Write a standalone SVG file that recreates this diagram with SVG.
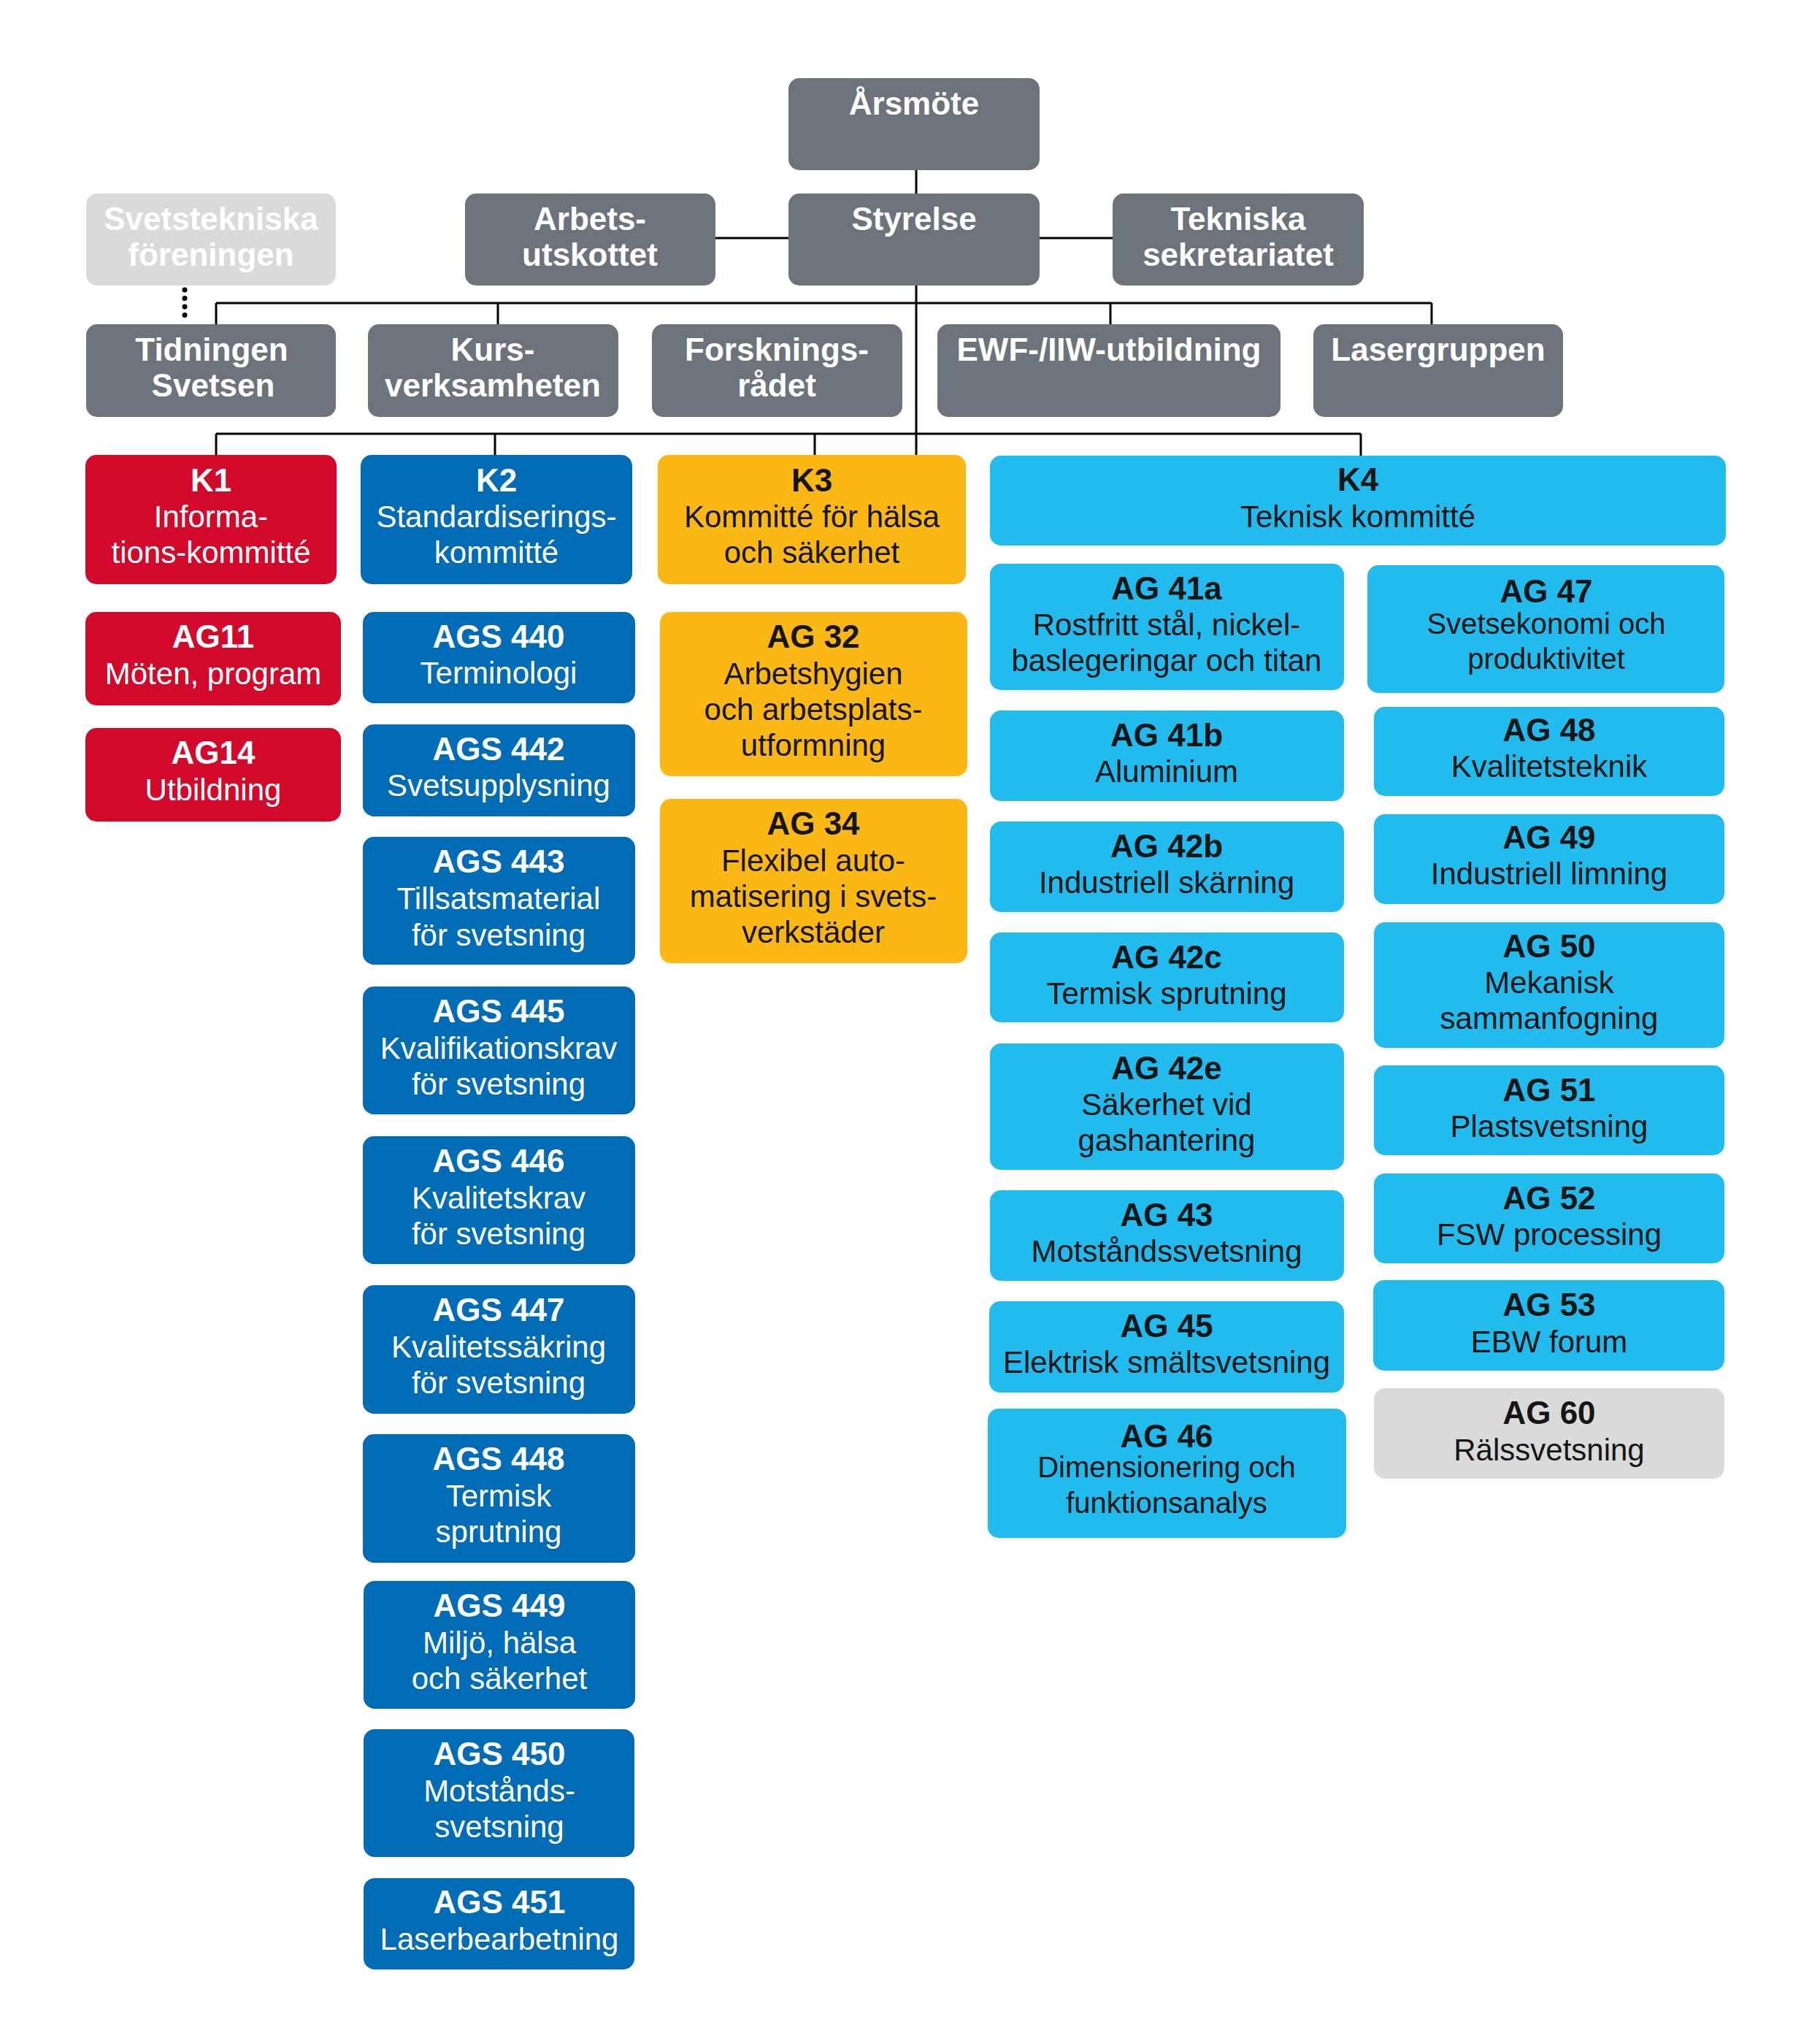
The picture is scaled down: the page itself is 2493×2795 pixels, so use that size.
<svg xmlns="http://www.w3.org/2000/svg" width="2493" height="2795" viewBox="0 0 2493 2795">
<style>
text{font-family:"Liberation Sans",Arial,Helvetica,sans-serif;text-anchor:middle}
.t{font-weight:bold;font-size:44px}
.d{font-size:42px}
.s{font-size:40px}
.w{fill:#ffffff}
.k{fill:#151515}
.gray{fill:#6c737a}
.lgray{fill:#dadada}
.red{fill:#d2092b}
.blue{fill:#006cb6}
.yel{fill:#fbb814}
.cyan{fill:#21bbee}
.con{stroke:#000;stroke-width:3;fill:none}
.dot{stroke:#000;stroke-width:7;stroke-linecap:round;stroke-dasharray:0 11.5;fill:none}
</style>
<rect width="2493" height="2795" fill="#ffffff"/>
<g id="connectors">
<path class="con" d="M1255,233V265M980,326H1080M1424,326H1524M1255,391V623M296,415H1961M296,415V444M682,415V444M1521,415V444M1961,415V444M296,594H1864M296,594V623M678,594V623M1116,594V623M1864,594V624"/>
<path class="dot" d="M253,397V443"/>
</g>
<g id="arsmote"><rect class="gray" x="1080" y="107" width="344" height="126" rx="15"/><text class="t w" x="1252" y="157">Årsmöte</text></g>
<g id="svetstekniska"><rect class="lgray" x="118" y="265" width="342" height="126" rx="15"/><text class="t w" x="289" y="315">Svetstekniska</text><text class="t w" x="289" y="364">föreningen</text></g>
<g id="arbetsutskottet"><rect class="gray" x="637" y="265" width="343" height="126" rx="15"/><text class="t w" x="808" y="315">Arbets-</text><text class="t w" x="808" y="364">utskottet</text></g>
<g id="styrelse"><rect class="gray" x="1080" y="265" width="344" height="126" rx="15"/><text class="t w" x="1252" y="315">Styrelse</text></g>
<g id="tekniska"><rect class="gray" x="1524" y="265" width="344" height="126" rx="15"/><text class="t w" x="1696" y="315">Tekniska</text><text class="t w" x="1696" y="364">sekretariatet</text></g>
<g id="tidningen"><rect class="gray" x="118" y="444" width="342" height="127" rx="15"/><text class="t w" x="290" y="494">Tidningen</text><text class="t w" x="292" y="543">Svetsen</text></g>
<g id="kurs"><rect class="gray" x="504" y="444" width="343" height="127" rx="15"/><text class="t w" x="675" y="494">Kurs-</text><text class="t w" x="675" y="543">verksamheten</text></g>
<g id="forskning"><rect class="gray" x="893" y="444" width="343" height="127" rx="15"/><text class="t w" x="1064" y="494">Forsknings-</text><text class="t w" x="1064" y="543">rådet</text></g>
<g id="ewf"><rect class="gray" x="1284" y="444" width="470" height="127" rx="15"/><text class="t w" x="1519" y="494">EWF-/IIW-utbildning</text></g>
<g id="lasergruppen"><rect class="gray" x="1799" y="444" width="342" height="127" rx="15"/><text class="t w" x="1970" y="494">Lasergruppen</text></g>

<g id="k1"><rect class="red" x="117" y="623" width="344" height="177" rx="15"/><text class="t w" x="289" y="673">K1</text><text class="d w" x="289" y="722">Informa-</text><text class="d w" x="289" y="771">tions-kommitté</text></g>
<g id="ag11"><rect class="red" x="117" y="838" width="350" height="128" rx="15"/><text class="t w" x="292" y="887">AG11</text><text class="d w" x="292" y="937">Möten, program</text></g>
<g id="ag14"><rect class="red" x="117" y="997" width="350" height="128" rx="15"/><text class="t w" x="292" y="1046">AG14</text><text class="d w" x="292" y="1096">Utbildning</text></g>

<g id="k2"><rect class="blue" x="494" y="623" width="372" height="177" rx="15"/><text class="t w" x="680" y="673">K2</text><text class="d w" x="680" y="722">Standardiserings-</text><text class="d w" x="680" y="771">kommitté</text></g>
<g id="ags440"><rect class="blue" x="497" y="838" width="373" height="125" rx="15"/><text class="t w" x="683" y="887">AGS 440</text><text class="d w" x="683" y="936">Terminologi</text></g>
<g id="ags442"><rect class="blue" x="497" y="992" width="373" height="126" rx="15"/><text class="t w" x="683" y="1041">AGS 442</text><text class="d w" x="683" y="1090">Svetsupplysning</text></g>
<g id="ags443"><rect class="blue" x="497" y="1146" width="373" height="175" rx="15"/><text class="t w" x="683" y="1195">AGS 443</text><text class="d w" x="683" y="1245">Tillsatsmaterial</text><text class="d w" x="683" y="1295">för svetsning</text></g>
<g id="ags445"><rect class="blue" x="497" y="1351" width="373" height="175" rx="15"/><text class="t w" x="683" y="1400">AGS 445</text><text class="d w" x="683" y="1450">Kvalifikationskrav</text><text class="d w" x="683" y="1499">för svetsning</text></g>
<g id="ags446"><rect class="blue" x="497" y="1556" width="373" height="175" rx="15"/><text class="t w" x="683" y="1605">AGS 446</text><text class="d w" x="683" y="1655">Kvalitetskrav</text><text class="d w" x="683" y="1704">för svetsning</text></g>
<g id="ags447"><rect class="blue" x="497" y="1760" width="373" height="176" rx="15"/><text class="t w" x="683" y="1809">AGS 447</text><text class="d w" x="683" y="1859">Kvalitetssäkring</text><text class="d w" x="683" y="1908">för svetsning</text></g>
<g id="ags448"><rect class="blue" x="497" y="1964" width="373" height="176" rx="15"/><text class="t w" x="683" y="2013">AGS 448</text><text class="d w" x="683" y="2063">Termisk</text><text class="d w" x="683" y="2112">sprutning</text></g>
<g id="ags449"><rect class="blue" x="498" y="2165" width="372" height="175" rx="15"/><text class="t w" x="684" y="2214">AGS 449</text><text class="d w" x="684" y="2264">Miljö, hälsa</text><text class="d w" x="684" y="2313">och säkerhet</text></g>
<g id="ags450"><rect class="blue" x="498" y="2368" width="371" height="175" rx="15"/><text class="t w" x="684" y="2417">AGS 450</text><text class="d w" x="684" y="2467">Motstånds-</text><text class="d w" x="684" y="2516">svetsning</text></g>
<g id="ags451"><rect class="blue" x="498" y="2572" width="371" height="125" rx="15"/><text class="t w" x="684" y="2620">AGS 451</text><text class="d w" x="684" y="2670">Laserbearbetning</text></g>

<g id="k3"><rect class="yel" x="901" y="623" width="422" height="177" rx="15"/><text class="t k" x="1112" y="673">K3</text><text class="d k" x="1112" y="722">Kommitté för hälsa</text><text class="d k" x="1112" y="771">och säkerhet</text></g>
<g id="ag32"><rect class="yel" x="904" y="838" width="421" height="225" rx="15"/><text class="t k" x="1114" y="887">AG 32</text><text class="d k" x="1114" y="937">Arbetshygien</text><text class="d k" x="1114" y="986">och arbetsplats-</text><text class="d k" x="1114" y="1035">utformning</text></g>
<g id="ag34"><rect class="yel" x="904" y="1094" width="421" height="225" rx="15"/><text class="t k" x="1114" y="1143">AG 34</text><text class="d k" x="1114" y="1193">Flexibel auto-</text><text class="d k" x="1114" y="1242">matisering i svets-</text><text class="d k" x="1114" y="1291">verkstäder</text></g>

<g id="k4"><rect class="cyan" x="1356" y="624" width="1008" height="123" rx="15"/><text class="t k" x="1860" y="672">K4</text><text class="d k" x="1860" y="722">Teknisk kommitté</text></g>
<g id="ag41a"><rect class="cyan" x="1356" y="772" width="485" height="173" rx="15"/><text class="t k" x="1598" y="821">AG 41a</text><text class="d k" x="1598" y="870">Rostfritt stål, nickel-</text><text class="d k" x="1598" y="919">baslegeringar och titan</text></g>
<g id="ag41b"><rect class="cyan" x="1356" y="973" width="485" height="124" rx="15"/><text class="t k" x="1598" y="1022">AG 41b</text><text class="d k" x="1598" y="1071">Aluminium</text></g>
<g id="ag42b"><rect class="cyan" x="1356" y="1125" width="485" height="124" rx="15"/><text class="t k" x="1598" y="1174">AG 42b</text><text class="d k" x="1598" y="1223">Industriell skärning</text></g>
<g id="ag42c"><rect class="cyan" x="1356" y="1277" width="485" height="123" rx="15"/><text class="t k" x="1598" y="1326">AG 42c</text><text class="d k" x="1598" y="1375">Termisk sprutning</text></g>
<g id="ag42e"><rect class="cyan" x="1356" y="1429" width="485" height="173" rx="15"/><text class="t k" x="1598" y="1478">AG 42e</text><text class="d k" x="1598" y="1527">Säkerhet vid</text><text class="d k" x="1598" y="1576">gashantering</text></g>
<g id="ag43"><rect class="cyan" x="1356" y="1630" width="485" height="124" rx="15"/><text class="t k" x="1598" y="1679">AG 43</text><text class="d k" x="1598" y="1728">Motståndssvetsning</text></g>
<g id="ag45"><rect class="cyan" x="1355" y="1782" width="486" height="125" rx="15"/><text class="t k" x="1598" y="1831">AG 45</text><text class="d k" x="1598" y="1880">Elektrisk smältsvetsning</text></g>
<g id="ag46"><rect class="cyan" x="1353" y="1929" width="491" height="177" rx="15"/><text class="t k" x="1598" y="1982">AG 46</text><text class="s k" x="1598" y="2023">Dimensionering och</text><text class="s k" x="1598" y="2072">funktionsanalys</text></g>

<g id="ag47"><rect class="cyan" x="1873" y="774" width="489" height="175" rx="15"/><text class="t k" x="2118" y="825">AG 47</text><text class="s k" x="2118" y="868">Svetsekonomi och</text><text class="s k" x="2118" y="916">produktivitet</text></g>
<g id="ag48"><rect class="cyan" x="1882" y="968" width="480" height="122" rx="15"/><text class="t k" x="2122" y="1015">AG 48</text><text class="d k" x="2122" y="1064">Kvalitetsteknik</text></g>
<g id="ag49"><rect class="cyan" x="1882" y="1115" width="480" height="123" rx="15"/><text class="t k" x="2122" y="1162">AG 49</text><text class="d k" x="2122" y="1211">Industriell limning</text></g>
<g id="ag50"><rect class="cyan" x="1882" y="1263" width="480" height="172" rx="15"/><text class="t k" x="2122" y="1311">AG 50</text><text class="d k" x="2122" y="1360">Mekanisk</text><text class="d k" x="2122" y="1409">sammanfogning</text></g>
<g id="ag51"><rect class="cyan" x="1882" y="1459" width="480" height="123" rx="15"/><text class="t k" x="2122" y="1508">AG 51</text><text class="d k" x="2122" y="1557">Plastsvetsning</text></g>
<g id="ag52"><rect class="cyan" x="1882" y="1607" width="480" height="123" rx="15"/><text class="t k" x="2122" y="1656">AG 52</text><text class="d k" x="2122" y="1705">FSW processing</text></g>
<g id="ag53"><rect class="cyan" x="1881" y="1753" width="481" height="124" rx="15"/><text class="t k" x="2122" y="1802">AG 53</text><text class="d k" x="2122" y="1852">EBW forum</text></g>
<g id="ag60"><rect class="lgray" x="1882" y="1901" width="480" height="124" rx="15"/><text class="t k" x="2122" y="1950">AG 60</text><text class="d k" x="2122" y="2000">Rälssvetsning</text></g>
</svg>
